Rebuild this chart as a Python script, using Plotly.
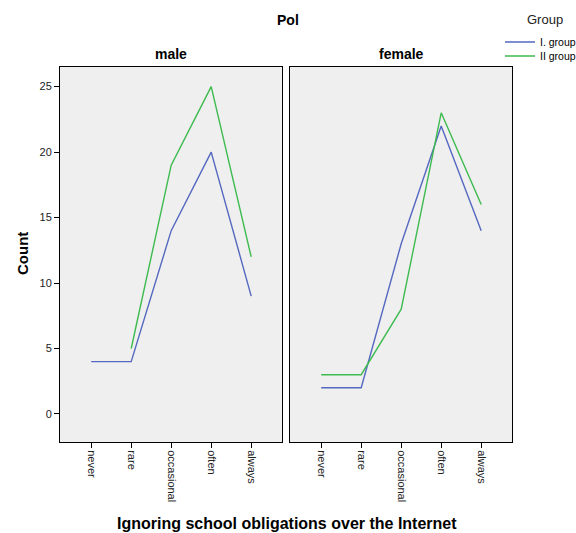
import plotly.graph_objects as go

categories = ["never", "rare", "occasional", "often", "always"]
panels = ["male", "female"]
male_group1 = [4, 4, 14, 20, 9]
male_group2 = [None, 5, 19, 25, 12]
female_group1 = [2, 2, 13, 22, 14]
female_group2 = [3, 3, 8, 23, 16]
series_names = ["I. group", "II group"]
y_ticks = [0, 5, 10, 15, 20, 25]

BLUE = "#5468C0"
GREEN = "#3DBB4F"
FONT = "Liberation Sans, Arial, sans-serif"

W, H = 576, 533
def fx(px):
    return px / W
def fy(py):
    return 1 - py / H

fig = go.Figure()
xpos = list(range(len(categories)))

fig.add_trace(go.Scatter(x=xpos, y=male_group1, mode="lines", name=series_names[0],
                         line=dict(color=BLUE, width=1.4), xaxis="x", yaxis="y",
                         legendgroup="g1", legend="legend"))
fig.add_trace(go.Scatter(x=xpos, y=male_group2, mode="lines", name=series_names[1],
                         line=dict(color=GREEN, width=1.4), xaxis="x", yaxis="y",
                         legendgroup="g2", legend="legend2"))
fig.add_trace(go.Scatter(x=xpos, y=female_group1, mode="lines", name=series_names[0],
                         line=dict(color=BLUE, width=1.4), xaxis="x2", yaxis="y2",
                         legendgroup="g1", showlegend=False))
fig.add_trace(go.Scatter(x=xpos, y=female_group2, mode="lines", name=series_names[1],
                         line=dict(color=GREEN, width=1.4), xaxis="x2", yaxis="y2",
                         legendgroup="g2", showlegend=False))

yrange = [-2.14, 26.5]
xrange_ = [-0.78, 4.77]
ydom = [fy(442), fy(67)]

xcommon = dict(range=xrange_, tickmode="array", tickvals=xpos, ticktext=categories,
               tickangle=90, ticks="outside", ticklen=5, tickcolor="black",
               showline=True, linecolor="black", linewidth=1, mirror=True,
               showgrid=False, zeroline=False,
               tickfont=dict(family=FONT, size=11, color="#222"))
ycommon = dict(range=yrange, tickmode="array", tickvals=y_ticks,
               ticks="outside", ticklen=5, tickcolor="black",
               showline=True, linecolor="black", linewidth=1, mirror=True,
               showgrid=False, zeroline=False, domain=ydom,
               tickfont=dict(family=FONT, size=11, color="#222"))

legend_common = dict(xanchor="left", yanchor="middle", bgcolor="rgba(0,0,0,0)",
                     itemwidth=30, font=dict(family=FONT, size=10.5, color="black"))

fig.update_layout(
    width=W, height=H, autosize=False,
    margin=dict(l=0, r=0, t=0, b=0, autoexpand=False),
    paper_bgcolor="white",
    plot_bgcolor="#EFEFEF",
    font=dict(family=FONT, color="black"),
    xaxis=dict(domain=[fx(60), fx(282)], anchor="y", **xcommon),
    xaxis2=dict(domain=[fx(290), fx(512)], anchor="y2", **xcommon),
    yaxis=dict(anchor="x", **ycommon),
    yaxis2=dict(anchor="x2", showticklabels=False, ticks="",
                **{k: v for k, v in ycommon.items() if k not in ("ticks",)}),
    showlegend=True,
    legend=dict(x=fx(500), y=fy(42), **legend_common),
    legend2=dict(x=fx(500), y=fy(56), **legend_common),
)

annotations = [
    dict(text="<b>Pol</b>", x=0.5, y=fy(20), xref="paper", yref="paper",
         showarrow=False, font=dict(family=FONT, size=14), xanchor="center", yanchor="middle"),
    dict(text="Group", x=fx(545), y=fy(19), xref="paper", yref="paper",
         showarrow=False, font=dict(family=FONT, size=13, color="#222"),
         xanchor="center", yanchor="middle"),
    dict(text="<b>" + panels[0] + "</b>", x=fx(171), y=fy(54), xref="paper", yref="paper",
         showarrow=False, font=dict(family=FONT, size=14), xanchor="center", yanchor="middle"),
    dict(text="<b>" + panels[1] + "</b>", x=fx(401), y=fy(54), xref="paper", yref="paper",
         showarrow=False, font=dict(family=FONT, size=14), xanchor="center", yanchor="middle"),
    dict(text="<b>Count</b>", x=fx(22), y=fy(254), xref="paper", yref="paper", textangle=-90,
         showarrow=False, font=dict(family=FONT, size=15), xanchor="center", yanchor="middle"),
    dict(text="<b>Ignoring school obligations over the Internet</b>", x=fx(287), y=fy(523),
         xref="paper", yref="paper", showarrow=False, font=dict(family=FONT, size=16),
         xanchor="center", yanchor="middle"),
]
fig.update_layout(annotations=annotations)

fig.write_html(
    "out.html",
    config={"displayModeBar": False, "responsive": False},
    default_width="576px", default_height="533px",
    post_script="document.body.style.margin='0';document.body.style.padding='0';"
                "document.body.style.overflow='hidden';"
                "document.documentElement.style.overflow='hidden';",
)
